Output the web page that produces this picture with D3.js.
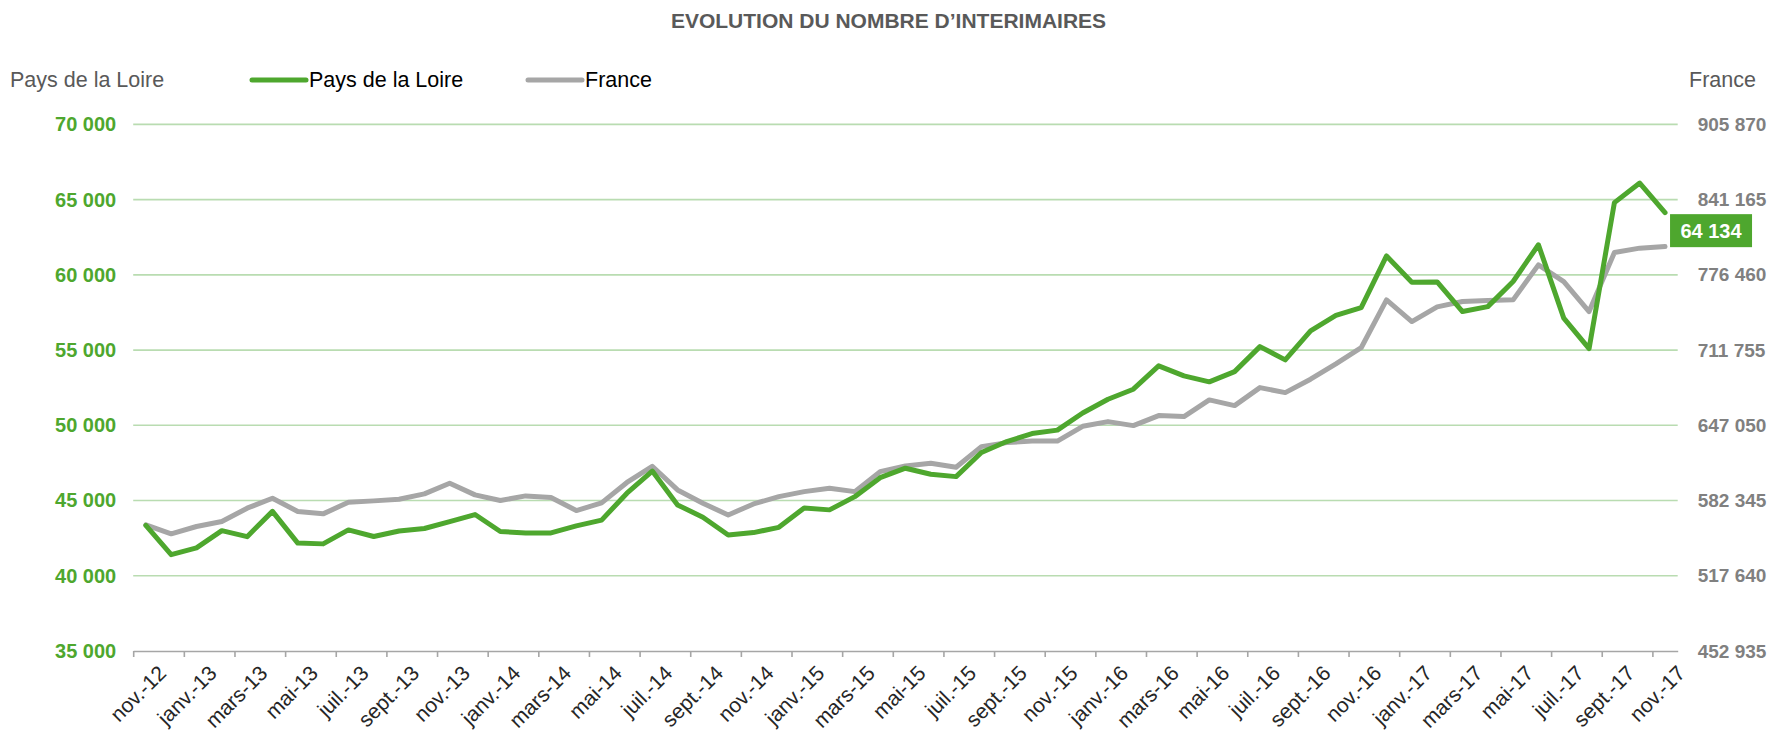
<!DOCTYPE html>
<html>
<head>
<meta charset="utf-8">
<script src="https://cdn.jsdelivr.net/npm/d3@7"></script>
<style>
  body { margin: 0; background: #fff; }
  svg { font-family: "Liberation Sans", Arial, sans-serif; display: block; }
</style>
</head>
<body>
<div id="chart"></div>
<script>
// categories (monthly, nov-12 .. nov-17)
const categories = [
  "nov.-12","déc.-12",
  "janv.-13","févr.-13","mars-13","avr.-13","mai-13","juin-13","juil.-13","août-13","sept.-13","oct.-13","nov.-13","déc.-13",
  "janv.-14","févr.-14","mars-14","avr.-14","mai-14","juin-14","juil.-14","août-14","sept.-14","oct.-14","nov.-14","déc.-14",
  "janv.-15","févr.-15","mars-15","avr.-15","mai-15","juin-15","juil.-15","août-15","sept.-15","oct.-15","nov.-15","déc.-15",
  "janv.-16","févr.-16","mars-16","avr.-16","mai-16","juin-16","juil.-16","août-16","sept.-16","oct.-16","nov.-16","déc.-16",
  "janv.-17","févr.-17","mars-17","avr.-17","mai-17","juin-17","juil.-17","août-17","sept.-17","oct.-17","nov.-17"
];

const paysDeLaLoire = [
  43350, 41400,
  41850, 43000, 42600, 44280, 42170, 42120, 43050, 42610, 42980, 43140, 43600, 44070,
  42940, 42850, 42850, 43320, 43700, 45490, 46960, 44710, 43890, 42710, 42870, 43220,
  44510, 44380, 45260, 46520, 47150, 46750, 46590, 48190, 48920, 49450, 49680, 50820,
  51730, 52400, 53950, 53290, 52890, 53570, 55230, 54350, 56280, 57300, 57820, 61260,
  59510, 59530, 57560, 57890, 59560, 62000, 57120, 55100, 64800, 66100, 64134
];

const france = [
  561450, 553720,
  560020, 564300, 575760, 584350, 572900, 570890, 580910, 582060, 583490, 588070, 597230, 587210,
  582345, 586350, 584920, 573760, 580300, 597900, 611800, 591460, 580020, 569960, 579420, 585700,
  590000, 592920, 590000, 607210, 612110, 614440, 610990, 628720, 632160, 633500, 633500, 646200,
  650240, 646800, 655400, 654540, 668900, 664000, 679490, 675190, 686700, 699880, 713800, 754950,
  736300, 748900, 753510, 754370, 754950, 785070, 770700, 744880, 795650, 799440, 800815
];

const leftTicks = [35000, 40000, 45000, 50000, 55000, 60000, 65000, 70000];
const rightTicks = [452935, 517640, 582345, 647050, 711755, 776460, 841165, 905870];

const width = 1777, height = 734;
const margin = {top: 124.4, right: 99.3, bottom: 83, left: 133.2};
const innerWidth = width - margin.left - margin.right;
const innerHeight = height - margin.top - margin.bottom;

const green = "#4ea72e", grey = "#a6a6a6";
const spaceFmt = v => d3.format(",")(v).replace(/,/g, " ");

const svg = d3.select("#chart").append("svg")
  .attr("width", width).attr("height", height);

const g = svg.append("g")
  .attr("transform", `translate(${margin.left}, ${margin.top})`);

// scales
const x = d3.scaleLinear().domain([0, categories.length]).range([0, innerWidth]);
const yL = d3.scaleLinear().domain([35000, 70000]).range([innerHeight, 0]);
const yR = d3.scaleLinear().domain([452935, 905870]).range([innerHeight, 0]);

// gridlines
g.append("g")
  .selectAll("line")
  .data(leftTicks.slice(1))
  .join("line")
    .attr("x1", 0).attr("x2", innerWidth)
    .attr("y1", d => yL(d)).attr("y2", d => yL(d))
    .attr("stroke", "#b9dcb1").attr("stroke-width", 1.6);

// left axis
const leftAxis = g.append("g")
  .call(d3.axisLeft(yL).tickValues(leftTicks).tickSize(0).tickPadding(17).tickFormat(spaceFmt));
leftAxis.select(".domain").remove();
leftAxis.selectAll("text")
  .attr("fill", green).attr("font-size", 20).attr("font-weight", "bold");

// right axis
const rightAxis = g.append("g")
  .attr("transform", `translate(${innerWidth}, 0)`)
  .call(d3.axisRight(yR).tickValues(rightTicks).tickSize(0).tickPadding(20).tickFormat(spaceFmt));
rightAxis.select(".domain").remove();
rightAxis.selectAll("text")
  .attr("fill", "#808080").attr("font-size", 19).attr("font-weight", "bold");

// bottom axis: ticks every 2 months on category borders
const evens = d3.range(0, categories.length, 2);
const bottomAxis = g.append("g")
  .attr("transform", `translate(0, ${innerHeight})`)
  .call(d3.axisBottom(x).tickValues(evens).tickSize(6).tickSizeOuter(0).tickFormat(""));
bottomAxis.select(".domain").attr("stroke", grey).attr("stroke-width", 1.6);
bottomAxis.selectAll(".tick line").attr("stroke", grey).attr("stroke-width", 1.6);

g.append("g")
  .selectAll("text")
  .data(evens)
  .join("text")
    .attr("transform", d => `translate(${x(d + 0.5) + 11}, ${innerHeight + 13}) rotate(-45)`)
    .attr("text-anchor", "end")
    .attr("dy", "0.71em")
    .attr("font-size", 21)
    .attr("fill", "#262626")
    .text(d => categories[d]);

// lines
const lineL = d3.line().x((d, i) => x(i + 0.5)).y(d => yL(d));
const lineR = d3.line().x((d, i) => x(i + 0.5)).y(d => yR(d));

g.append("path")
  .datum(france)
  .attr("d", lineR)
  .attr("fill", "none").attr("stroke", grey).attr("stroke-width", 5)
  .attr("stroke-linejoin", "round").attr("stroke-linecap", "round");

g.append("path")
  .datum(paysDeLaLoire)
  .attr("d", lineL)
  .attr("fill", "none").attr("stroke", green).attr("stroke-width", 5)
  .attr("stroke-linejoin", "round").attr("stroke-linecap", "round");

// last value label
const last = paysDeLaLoire.length - 1;
const lbl = g.append("g")
  .attr("transform", `translate(${x(last + 0.5) + 5}, ${yL(paysDeLaLoire[last]) + 18})`);
lbl.append("rect")
  .attr("x", 0).attr("y", -16.5).attr("width", 82).attr("height", 33)
  .attr("fill", green);
lbl.append("text")
  .attr("x", 41).attr("dy", "0.36em")
  .attr("text-anchor", "middle")
  .attr("fill", "#fff").attr("font-size", 20).attr("font-weight", "bold")
  .text(spaceFmt(paysDeLaLoire[last]));

// title
svg.append("text")
  .attr("x", width / 2).attr("y", 28)
  .attr("text-anchor", "middle")
  .attr("font-size", 21).attr("font-weight", "bold").attr("fill", "#595959")
  .text("EVOLUTION DU NOMBRE D’INTERIMAIRES");

// axis titles
svg.append("text")
  .attr("x", 10).attr("y", 87)
  .attr("font-size", 21.5).attr("fill", "#595959")
  .text("Pays de la Loire");

svg.append("text")
  .attr("x", 1689).attr("y", 87)
  .attr("font-size", 21.5).attr("fill", "#595959")
  .text("France");

// legend
const legendItems = [
  {name: "Pays de la Loire", color: green, x: 252},
  {name: "France", color: grey, x: 528}
];
const legend = svg.append("g");
legend.selectAll("line")
  .data(legendItems)
  .join("line")
    .attr("x1", d => d.x).attr("x2", d => d.x + 54)
    .attr("y1", 80).attr("y2", 80)
    .attr("stroke", d => d.color).attr("stroke-width", 5).attr("stroke-linecap", "round");
legend.selectAll("text")
  .data(legendItems)
  .join("text")
    .attr("x", d => d.x + 57).attr("y", 87)
    .attr("font-size", 21.5).attr("fill", "#000")
    .text(d => d.name);
</script>
</body>
</html>
